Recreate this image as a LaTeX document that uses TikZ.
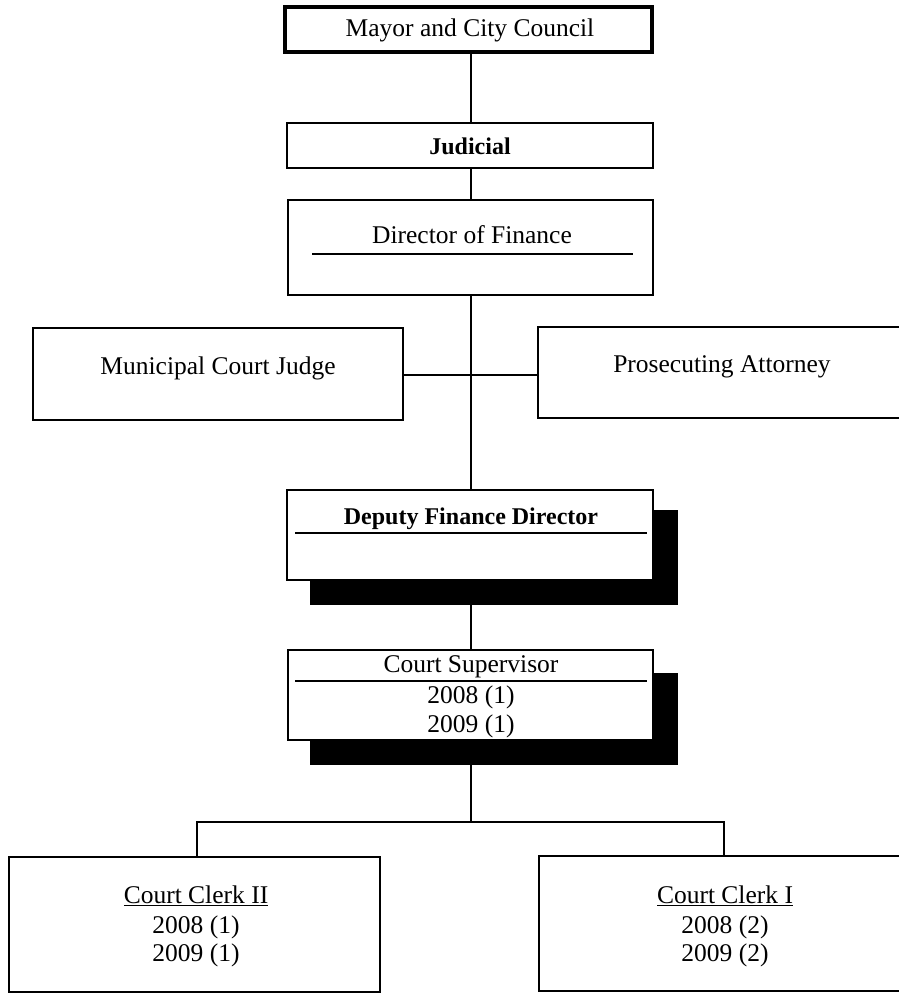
\documentclass[tikz,border=0pt]{standalone}
\usepackage{fontspec}
\setmainfont{Liberation Serif}
\begin{document}
\begin{tikzpicture}[x=1pt,y=-1pt,
  box/.style={draw=black, line width=2.2pt, fill=white, inner sep=0pt, rectangle},
  shadowbox/.style={fill=black, draw=none, inner sep=0pt, rectangle},
  lbl/.style={inner sep=0pt, font=\fontsize{25.5}{28}\selectfont, anchor=center},
  blbl/.style={lbl, font=\fontsize{24}{28}\selectfont\bfseries},
  conn/.style={line width=2.2pt},
  rule/.style={line width=2pt}]
\useasboundingbox (0,0) rectangle (899,993);
\clip (0,0) rectangle (899,993);
% shadows
\node[shadowbox, minimum width=368pt, minimum height=95pt] (depshadow) at (494,557.5) {};
\node[shadowbox, minimum width=368pt, minimum height=92pt] (supshadow) at (494,719) {};
\coordinate (bar) at (471,822);
% boxes
\node[box, line width=4pt, minimum width=367pt, minimum height=45pt] (mayor) at (468.5,29.5) {};
\node[box, minimum width=366pt, minimum height=45pt] (judicial) at (470,145.5) {};
\node[box, minimum width=365pt, minimum height=95pt] (director) at (470.5,247.5) {};
\node[box, minimum width=370pt, minimum height=92pt] (municipal) at (218,374) {};
\node[box, minimum width=368pt, minimum height=91pt] (prosecuting) at (722,372.5) {};
\node[box, minimum width=366pt, minimum height=90pt] (deputy) at (470,535) {};
\node[box, minimum width=365pt, minimum height=90pt] (supervisor) at (470.5,695) {};
\node[box, minimum width=371pt, minimum height=135pt] (clerk2) at (194.5,924.5) {};
\node[box, minimum width=372pt, minimum height=135pt] (clerk1) at (725,923.5) {};
% connectors
\draw[conn] (mayor.south -| 471,0) -- (judicial.north -| 471,0);
\draw[conn] (judicial.south -| 471,0) -- (director.north -| 471,0);
\draw[conn] (director.south -| 471,0) -- (deputy.north -| 471,0);
\draw[conn] (municipal.east |- 0,375) -- (prosecuting.west |- 0,375);
\draw[conn] (depshadow.south -| 471,0) -- (supervisor.north -| 471,0);
\draw[conn] (supshadow.south -| 471,0) -- (bar);
\draw[conn] (clerk2.north -| 197,0) |- (bar) -| (clerk1.north -| 724,0);
% texts
\node[lbl] (tmayor) at (470,30) {Mayor and City Council};
\node[blbl] (tjud) at (470,146) {Judicial};
\node[lbl] (tdir) at (472,235) {Director of Finance};
\draw[rule] (312,254) -- (633,254);
\node[lbl] (tmun) at (218,368) {Municipal Court Judge};
\node[lbl] (tpro) at (722,367) {Prosecuting Attorney};
\node[blbl] (tdep) at (471,519) {Deputy Finance Director};
\draw[rule] (295,533) -- (647,533);
\node[lbl] (tsup) at (471,667) {Court Supervisor};
\draw[rule] (295,681) -- (647,681);
\node[lbl] (tsup1) at (471,697) {2008 (1)};
\node[lbl] (tsup2) at (471,726) {2009 (1)};
\node[lbl] (tc2a) at (196,896) {\underline{Court Clerk II}};
\node[lbl] (tc2b) at (196,927) {2008 (1)};
\node[lbl] (tc2c) at (196,955) {2009 (1)};
\node[lbl] (tc1a) at (725,896) {\underline{Court Clerk I}};
\node[lbl] (tc1b) at (725,927) {2008 (2)};
\node[lbl] (tc1c) at (725,955) {2009 (2)};
\end{tikzpicture}
\end{document}
